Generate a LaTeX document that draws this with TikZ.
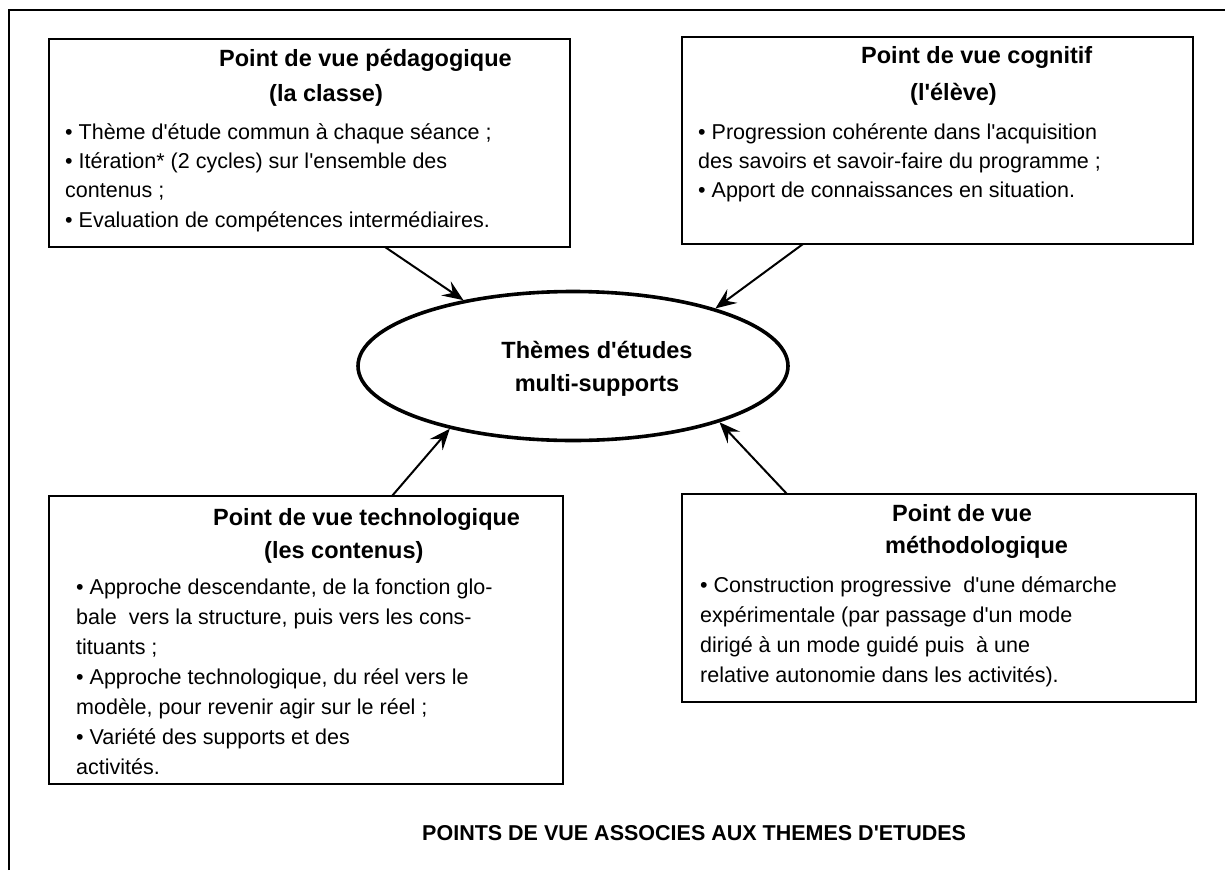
\documentclass[tikz,border=0pt]{standalone}
\usepackage{fontspec}
\setmainfont{Liberation Sans}[Ligatures=TeXOff]
\usetikzlibrary{arrows.meta,shapes.geometric}
\newcommand{\bodyfnt}{\fontsize{21.5}{30}\selectfont}
\newcommand{\headfnt}{\fontsize{23.5}{30}\selectfont\bfseries}
\tikzset{
  boxst/.style={draw, line width=2pt, inner sep=0pt, outer sep=0pt},
  txt/.style={anchor=base west, inner sep=0pt, font=\bodyfnt},
  hd/.style={anchor=base west, inner sep=0pt, font=\headfnt},
  hdc/.style={anchor=base, inner sep=0pt, font=\headfnt},
  arr/.style={line width=2pt, -{Stealth[length=21pt, width=17pt, inset=8pt]}},
}
\begin{document}
\begin{tikzpicture}[x=1pt, y=-1pt]
\useasboundingbox (0,0) rectangle (1225,870);
\fill[white] (0,0) rectangle (1225,870);
% outer frame (top and left edges)
\draw[line width=2.4pt] (9,870) -- (9,10) -- (1225,10);

% boxes
\node[boxst, minimum width=521pt, minimum height=208pt] (b1) at (309.5,143) {};
\node[boxst, minimum width=511pt, minimum height=207pt] (b2) at (937.5,140.5) {};
\node[boxst, minimum width=514pt, minimum height=288pt] (b3) at (306,640) {};
\node[boxst, minimum width=514pt, minimum height=208pt] (b4) at (939,598) {};

% ellipse
\node[ellipse, draw, line width=3.6pt, minimum width=430pt, minimum height=149pt, inner sep=0pt] (ell) at (573,366) {};
\node[hdc] (e1) at (597,358) {Thèmes d'études};
\node[hdc] (e2) at (597,391) {multi-supports};

% box 1
\node[hd] (h1a) at (219,66) {Point de vue pédagogique};
\node[hd] (h1b) at (269,101) {(la classe)};
\node[txt] (t1a) at (65,139) {• Thème d'étude commun à chaque séance ;};
\node[txt] (t1b) at (65,168) {• Itération* (2 cycles) sur l'ensemble des};
\node[txt] (t1c) at (65,197) {contenus ;};
\node[txt] (t1d) at (65,227) {• Evaluation de compétences intermédiaires.};

% box 2
\node[hd] (h2a) at (861,63) {Point de vue cognitif};
\node[hd] (h2b) at (910,100) {(l'élève)};
\node[txt] (t2a) at (698,139) {• Progression cohérente dans l'acquisition};
\node[txt] (t2b) at (698,168) {des savoirs et savoir-faire du programme ;};
\node[txt] (t2c) at (698,197) {• Apport de connaissances en situation.};

% box 3
\node[hd] (h3a) at (213,525) {Point de vue technologique};
\node[hd] (h3b) at (264,558) {(les contenus)};
\node[txt] (t3a) at (76,594) {• Approche descendante, de la fonction glo-};
\node[txt] (t3b) at (76,624) {bale~ vers la structure, puis vers les cons-};
\node[txt] (t3c) at (76,654) {tituants ;};
\node[txt] (t3d) at (76,684) {• Approche technologique, du réel vers le};
\node[txt] (t3e) at (76,714) {modèle, pour revenir agir sur le réel ;};
\node[txt] (t3f) at (76,744) {• Variété des supports et des};
\node[txt] (t3g) at (76,774) {activités.};

% box 4
\node[hd] (h4a) at (892,521) {Point de vue};
\node[hd] (h4b) at (885,553) {méthodologique};
\node[txt] (t4a) at (700,592) {• Construction progressive~ d'une démarche};
\node[txt] (t4b) at (700,622) {expérimentale (par passage d'un mode};
\node[txt] (t4c) at (700,652) {dirigé à un mode guidé puis~ à une};
\node[txt] (t4d) at (700,682) {relative autonomie dans les activités).};

% title
\node[txt, font=\bodyfnt\bfseries] (title) at (422,840) {POINTS DE VUE ASSOCIES AUX THEMES D'ETUDES};

% arrows
\draw[arr] ([xshift=336pt]b1.south west) -- (ell.149.4);
\draw[arr] ([xshift=121pt]b2.south west) -- (ell.22.6);
\draw[arr] ([xshift=343pt]b3.north west) -- (ell.207.1);
\draw[arr] ([xshift=105pt]b4.north west) -- (ell.339.8);
\end{tikzpicture}
\end{document}
